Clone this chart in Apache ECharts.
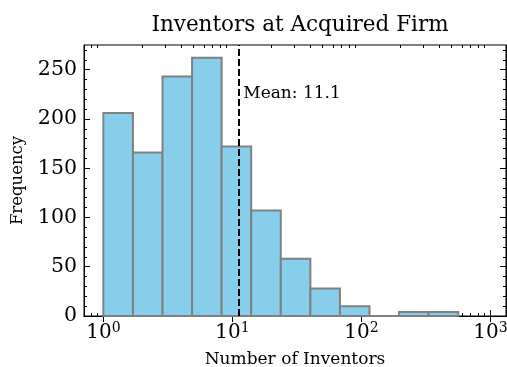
<!DOCTYPE html>
<html>
<head>
<meta charset="utf-8">
<script src="https://cdn.jsdelivr.net/npm/echarts@6/dist/echarts.min.js"></script>
<style>html,body{margin:0;padding:0;background:#fff}#c{width:507px;height:367px}</style>
</head>
<body>
<div id="c"></div>
<script>
// Histogram bin edges (log-spaced) and counts
const binLo = [1, 1.695, 2.873, 4.868, 8.251, 13.98, 23.70, 40.18, 68.09, 115.4, 195.6, 331.6];
const binHi = [1.695, 2.873, 4.868, 8.251, 13.98, 23.70, 40.18, 68.09, 115.4, 195.6, 331.6, 562];
const counts = [206, 166, 243, 262, 172, 107, 58, 28, 10, 0, 4, 4];
const meanValue = 11.1;
const meanLabel = 'Mean: 11.1';
const yTicks = [0, 50, 100, 150, 200, 250];
const xMajor = [1, 10, 100, 1000];
const xMinor = [0.8, 0.9, 2, 3, 4, 5, 6, 7, 8, 9, 20, 30, 40, 50, 60, 70, 80, 90, 200, 300, 400, 500, 600, 700, 800, 900];

const FONT = 'DejaVu Serif';
const X_MIN = 0.708, X_MAX = 1318;
const chart = echarts.init(document.getElementById('c'), null, {renderer: 'canvas'});

const barData = counts.map((c, i) => [binLo[i], binHi[i], c]);

function xLabel(v) {
  const e = Math.round(Math.log10(v));
  if (Math.abs(Math.log10(v) - e) > 1e-6) return '';
  return '{b|10}{s|' + e + '}';
}

function tickAxis(pos, values, len, withLine) {
  return {
    type: 'log', logBase: 10, min: X_MIN, max: X_MAX, position: pos, offset: 0,
    axisLine: {show: withLine, lineStyle: {color: '#000', width: 1}},
    axisTick: {show: true, inside: true, length: len, lineStyle: {color: '#000'}, customValues: values},
    axisLabel: {show: false}, splitLine: {show: false}
  };
}

const option = {
  animation: false,
  backgroundColor: '#fff',
  title: {
    text: 'Inventors at Acquired Firm',
    left: 295, top: 9, textAlign: 'center',
    textStyle: {fontFamily: FONT, fontSize: 21.5, fontWeight: 'normal', color: '#000'}
  },
  grid: {left: 84, right: 1, top: 45, bottom: 51, show: true, borderColor: '#000', borderWidth: 1,
    backgroundColor: 'transparent', containLabel: false, outerBoundsMode: 'none'},
  xAxis: [{
    type: 'log', logBase: 10, min: X_MIN, max: X_MAX, position: 'bottom', offset: 0,
    name: 'Number of Inventors', nameLocation: 'middle', nameGap: 35,
    nameTextStyle: {fontFamily: FONT, fontSize: 17, color: '#000'},
    axisLine: {show: true, lineStyle: {color: '#000', width: 1}},
    axisTick: {show: true, inside: true, length: 6, lineStyle: {color: '#000'}, customValues: xMajor},
    axisLabel: {
      show: true, color: '#000', margin: 5, formatter: xLabel, customValues: xMajor,
      rich: {
        b: {fontFamily: FONT, fontSize: 20, color: '#000'},
        s: {fontFamily: FONT, fontSize: 14, color: '#000', padding: [0, 0, 10, 0]}
      }
    },
    splitLine: {show: false}
  },
    tickAxis('top', xMajor, 6, true),
    tickAxis('bottom', xMinor, 3, false),
    tickAxis('top', xMinor, 3, false)
  ],
  yAxis: [{
    type: 'value', min: 0, max: 275, interval: 50,
    name: 'Frequency', nameLocation: 'middle', nameGap: 58,
    nameTextStyle: {fontFamily: FONT, fontSize: 16.5, color: '#000'},
    axisLine: {show: true, lineStyle: {color: '#000', width: 1}},
    axisTick: {show: true, inside: true, length: 6, lineStyle: {color: '#000'}, customValues: yTicks},
    minorTick: {show: true, splitNumber: 5, length: 3, lineStyle: {color: '#000'}},
    axisLabel: {fontFamily: FONT, fontSize: 20.5, color: '#000', margin: 7, customValues: yTicks},
    splitLine: {show: false}, minorSplitLine: {show: false}
  }, {
    type: 'value', min: 0, max: 275, interval: 50, position: 'right',
    axisLine: {show: true, lineStyle: {color: '#000', width: 1}},
    axisTick: {show: true, inside: true, length: 6, lineStyle: {color: '#000'}, customValues: yTicks},
    minorTick: {show: true, splitNumber: 5, length: 3, lineStyle: {color: '#000'}},
    axisLabel: {show: false}, splitLine: {show: false}, minorSplitLine: {show: false}
  }],
  series: [{
    type: 'custom',
    xAxisIndex: 0, yAxisIndex: 0,
    data: barData,
    encode: {x: [0, 1], y: 2},
    renderItem: function (params, api) {
      const p0 = api.coord([api.value(0), 0]);
      const p1 = api.coord([api.value(1), api.value(2)]);
      return {
        type: 'rect',
        shape: {x: p0[0], y: p1[1], width: p1[0] - p0[0], height: p0[1] - p1[1]},
        style: {fill: '#87CEEB', stroke: '#808080', lineWidth: 2}
      };
    },
    markLine: {
      silent: true, symbol: 'none',
      lineStyle: {color: '#000', type: [7, 3], width: 2},
      label: {show: false},
      data: [{xAxis: meanValue}]
    },
    markPoint: {
      symbol: 'circle', symbolSize: 0,
      data: [{coord: [meanValue, 226], value: meanLabel}],
      label: {show: true, position: 'right', distance: 5, formatter: meanLabel,
        fontFamily: FONT, fontSize: 17, color: '#000'}
    },
    z: 2
  }]
};
chart.setOption(option);
</script>
</body>
</html>
